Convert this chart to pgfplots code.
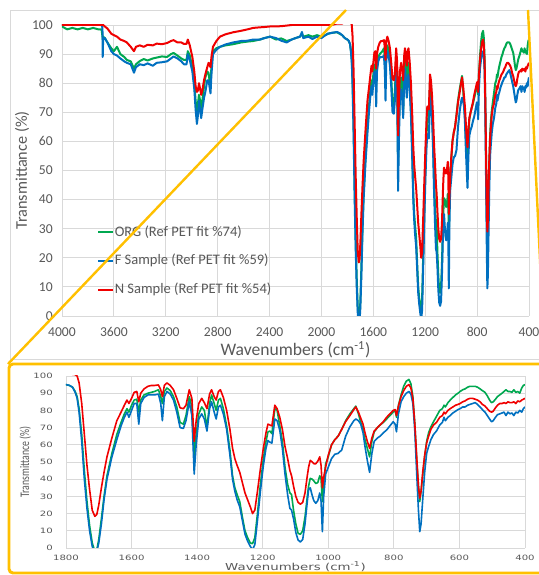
\documentclass[border=0pt]{standalone}
\usepackage{pgfplots}
\pgfplotsset{compat=1.18}
\usepackage{pgfplotstable}
\usepackage{graphicx}
\usepackage{fontspec}
\setmainfont{Carlito}
\newfontfamily\dejavu{DejaVu Sans}
\definecolor{cG}{RGB}{0,168,80}
\definecolor{cB}{RGB}{0,112,192}
\definecolor{cR}{RGB}{240,0,0}
\definecolor{txtgray}{RGB}{89,89,89}
\definecolor{gridgray}{RGB}{217,217,217}
\definecolor{gold}{RGB}{255,192,0}

\pgfplotstableread{
w G B R
4000 99.5 100 100
3960 98.5 100 100
3920 99 100 100
3880 98.5 100 100
3840 99 100 100
3800 98.5 100 100
3760 99 100 100
3720 98.5 100 100
3695 98.5 100 100
3688 96 99 100
3686 95 89 100
3683 96 95 100
3670 95.5 95.5 99.5
3650 94 94 98.8
3620 92 91 97
3600 91 90 96.5
3576 92.5 89.5 96
3550 90 88.5 95
3520 89 87.5 94.5
3500 88 87 94
3470 87.5 86.5 92.5
3445 85 83.6 91
3430 86.5 85.5 92.5
3400 87.6 86.5 93
3370 88.3 86.2 92.5
3340 87.8 86.8 93.2
3300 88.5 86 93
3270 88.8 87 93.6
3230 89.2 87.2 93.4
3190 89 87.5 93.8
3160 90 88.5 94.5
3140 90.4 89.2 94.8
3110 89.5 88.5 94
3080 88.5 87.5 94
3060 88 86.5 93.5
3040 88 86.5 93.5
3030 91 90 95
3015 89.5 88 93
2995 85.5 84 89
2980 80 78 84
2970 74 71 79
2960 70 66 77
2952 73 69 77.5
2944 76 74 80
2935 74 71 78
2927 71.5 68 76
2918 74 71 77.5
2905 79 75 81
2895 82 77 83
2880 84 81 85.5
2870 83.5 81 87
2860 80 78 86
2855 79 76.5 85.5
2848 86 83 89
2836 91 90 92.5
2810 92 91.5 94.5
2782 92.5 92.5 96
2740 93 93.3 96.8
2680 93.4 94 97.5
2620 94 94.5 98
2570 94.3 94.6 98.5
2526 94.5 95 99
2474 95 95 99.2
2440 95.5 95.5 99.3
2396 96 96 99.5
2350 95 95.5 99.5
2310 95.4 94.6 99.6
2268 94.5 94 99.8
2230 95 95 100
2200 95.5 95.5 100
2165 96 96 100
2150 97 97.6 100
2140 96 95.5 100
2100 96.5 96 100
2070 96 95.2 100
2034 96.5 96 100
2000 96 95.5 100
1970 96.5 96.5 100
1950 97 97 100
1920 97.3 97.3 100
1880 97.5 97.6 100.5
1860 97 97.2 100.5
1840 96.5 96.5 100.5
1820 95.5 95.5 101
1800 95 95 101.5
1790 94.5 94.6 101.5
1780 93.5 93.5 101
1772 91 90.5 100.8
1766 88 87 100
1760 81 79 96
1752 66 62 84
1744 45 40 66
1736 27 23 48
1728 13 10 34
1720 3 1 22
1712 -2 -3 18.4
1706 -1 -2 19.5
1700 5 3 25
1692 17 14 35
1684 30 28 44
1675 42 40 53
1660 55 53 64
1645 66 63 74
1632 73 71 79
1622 78 76 83
1614 81 79 86
1608 79 76 84
1600 83 80 87
1592 86 84 90.5
1584 86.5 84 91
1578 79 72 85
1572 86 84 90
1562 89 87.5 92.5
1550 90 89 94
1540 90.5 89 94.5
1530 91 89 94.5
1518 92 89.5 94.8
1511 88 84 92
1506 84 74 88
1500 91 88 94.5
1492 93 91 96
1482 91.5 89.5 94.5
1472 88 86 92
1462 82 79 87
1452 73 70 81.5
1442 72 69.5 81
1434 77 74 83
1424 88 85 92
1416 82 77 87
1409 52 43 62
1403 66 60 74
1395 78 75 84
1386 82 78 87
1378 80 75 84.5
1370 70 68 81
1362 84 81 89.5
1356 89 85 92
1348 84 79 88
1342 80 75 86
1335 86 82 91
1329 87 83 92
1320 81 78 87.5
1310 71 69 80
1300 57 54 69
1292 42 40 58
1285 35 33 52
1278 31 28 48
1270 27 24 44
1262 18 16 38
1254 10 8 32
1246 6 4 28
1238 3 1 24
1231 2.5 -1 20
1224 6 2 22
1216 20 16 33
1207 37 33 46
1198 52 48 58
1190 62 58 67
1184 67.5 62.5 72
1178 68 61.5 71.5
1172 66.5 61 71
1163 81 75 83
1156 80 74 81
1148 71 68.5 76
1140 62 58 69
1132 47 43 59
1124 37 31 52
1117 32 23 45
1112 31 22 42
1106 22 17 36
1099 14 9 30
1092 8.5 4.6 26.5
1085 8 3.5 25.5
1078 10 5 26.5
1071 18 14 32
1064 30 27 42
1060 36 34 47
1055 40.5 35 51
1049 40 30.5 50
1044 39 27.5 49
1038 37.5 26 49
1032 38 27.5 50.5
1026 42 32 53
1022 40 27 48
1018 27 9.5 35
1014 38 30 41
1008 49 43 47
1000 53 47 54
990 60 52 60
980 63 54.5 63
970 65 55 65
959 69 57 69
947 74 65 73.5
934 78 70.5 77
922 81 74 80.5
916 82.5 75 82
908 78 74 79
901 73 72 75.5
894 69 67 72
888 63 59 67
881 58 51 62
874 53 44 58
867 62 55 64
860 67.5 62 68
850 70 64 70
842 71.5 65 71.5
832 73 67 73.5
822 75 68.6 76
812 77 71 78
802 79 73.4 80
796 80 72 80.5
792 76 67.6 77
786 83 78 82.5
778 89 85 88
770 94 88 91.5
762 97 90 94
754 98 91 95
748 95.5 89.5 93
742 88 84 87
736 72 68 72
730 50 42 52
725 36 22 36
721 27 9.5 29
717 33 14 33
712 42 28 44
706 53 44 54
700 62 55 61
694 67 59 65
687 70.5 63 69
679 73.4 66 71.5
670 76.5 68 73
660 80 71.5 76
652 81 73 77
647 83 76 79
643 82 74 78
635 84.5 76 80
628 86 77 81
620 87.5 78.5 82
612 89 79.5 83
604 90 80.5 83.5
598 91 81 84
590 92 82 85
583 92.5 82 85.5
575 93.5 83 86.5
568 94 83.5 87
560 94 84 87
552 94 84.5 86.5
545 93.5 83.5 86
537 92.5 82 85
530 91.5 80.5 83.5
522 90.5 79 82.5
515 88.5 77 81
508 86 75 79.5
502 84.5 73.4 79
497 85 74 79.5
490 86.5 76 81.5
484 88 77.5 83
477 89 78 84
470 90 78.5 84
464 91 79 84.5
458 92 77 84
452 91 79 85
446 91 78 84.5
440 90.5 78.5 84.5
434 92 77 85
428 90.5 79 84
422 91 78.5 85.5
416 90 80 85
410 93 79 86
405 94.5 81 86.5
400 95 82 87
}\spec

\begin{document}
\begin{tikzpicture}
\useasboundingbox (0,0) rectangle (404.25pt,431.25pt);
\fill[white] (0,0) rectangle (404.25pt,431.25pt);
\draw[gridgray, line width=0.6pt] (7.5pt,423.75pt) rectangle (410pt,162pt);

\begin{axis}[
  at={(46.5pt,194.25pt)}, anchor=south west,
  scale only axis, width=350.25pt, height=218.25pt,
  x dir=reverse, xmin=400, xmax=4000, ymin=0, ymax=100,
  xtick={400,800,...,4000}, ytick={0,10,...,100},
  grid=major, grid style={draw=gridgray, line width=0.6pt},
  axis line style={draw=none}, major tick length=0pt,
  tick label style={font=\fontsize{10.2}{12}\selectfont, text=txtgray, inner sep=0pt},
  xticklabel style={anchor=center, yshift=-12pt},
  yticklabel style={anchor=east, xshift=-6.75pt},
  /pgf/number format/assume math mode=true, /pgf/number format/1000 sep={},
  xlabel={Wavenumbers (cm\textsuperscript{-1})},
  ylabel={Transmittance (\%)},
  xlabel style={at={(axis description cs:0.5,-0.116)}, anchor=center, font=\fontsize{13.2}{15}\selectfont, text=txtgray, inner sep=0pt},
  ylabel style={at={(axis description cs:-0.0857,0.5)}, anchor=center, font=\fontsize{12.2}{14}\selectfont, text=txtgray, inner sep=0pt},
  legend style={at={(axis description cs:0.075,0.315)}, anchor=north west, draw=none, fill=none,
    font=\fontsize{10.9}{13}\selectfont, text=txtgray, row sep=11pt, inner sep=0pt,
    nodes={inner sep=0.6pt}},
  legend cell align=left,
  legend image code/.code={\draw[#1, line width=1.5pt] (0pt,0pt) -- (11pt,0pt);},
  every axis plot/.append style={line width=1.5pt, line join=round},
]
\addplot[cG] table[x=w, y=G] {\spec};
\addlegendentry{ORG (Ref PET fit \%74)}
\addplot[cB] table[x=w, y=B] {\spec};
\addlegendentry{F Sample (Ref PET fit \%59)}
\addplot[cR] table[x=w, y=R] {\spec};
\addlegendentry{N Sample (Ref PET fit \%54)}
\end{axis}

\begin{axis}[
  at={(49.5pt,20.25pt)}, anchor=south west,
  scale only axis, width=344.25pt, height=129pt,
  x dir=reverse, xmin=400, xmax=1800, ymin=0, ymax=100,
  xtick={400,600,...,1800}, ytick={0,10,...,100},
  grid=major, grid style={draw=gridgray, line width=0.6pt},
  axis line style={draw=none}, major tick length=0pt,
  tick label style={font=\dejavu\fontsize{7.6}{9}\selectfont, text=txtgray, inner sep=0pt},
  xticklabel={\scalebox{1}[0.72]{\pgfmathprintnumber[assume math mode=true,1000 sep={}]{\tick}}},
  yticklabel={\scalebox{1}[0.72]{\pgfmathprintnumber[assume math mode=true]{\tick}}},
  xticklabel style={anchor=center, yshift=-7.5pt},
  yticklabel style={anchor=east, xshift=-9.75pt},
  xlabel={\scalebox{1}[0.72]{Wavenumbers (cm\textsuperscript{-1})}},
  ylabel={\scalebox{0.75}[1]{Transmittance (\%)}},
  xlabel style={at={(axis description cs:0.5,-0.11)}, anchor=center, font=\dejavu\fontsize{10}{11}\selectfont, text=txtgray, inner sep=0pt},
  ylabel style={at={(axis description cs:-0.089,0.5)}, anchor=center, font=\fontsize{9.8}{11}\selectfont, text=txtgray, inner sep=0pt},
  every axis plot/.append style={line width=1.2pt, line join=round},
]
\addplot[cG] table[x=w, y=G] {\spec};
\addplot[cB] table[x=w, y=B] {\spec};
\addplot[cR] table[x=w, y=R] {\spec};
\end{axis}

\draw[gold, line width=1.8pt] (6pt,158.25pt) -- (259.5pt,423.75pt);
\draw[gold, line width=1.8pt] (396pt,423.75pt) -- (408.75pt,158.25pt);
\draw[gold, line width=2.2pt, rounded corners=3pt] (6.75pt,1.5pt) rectangle (410pt,158.25pt);
\end{tikzpicture}
\end{document}
